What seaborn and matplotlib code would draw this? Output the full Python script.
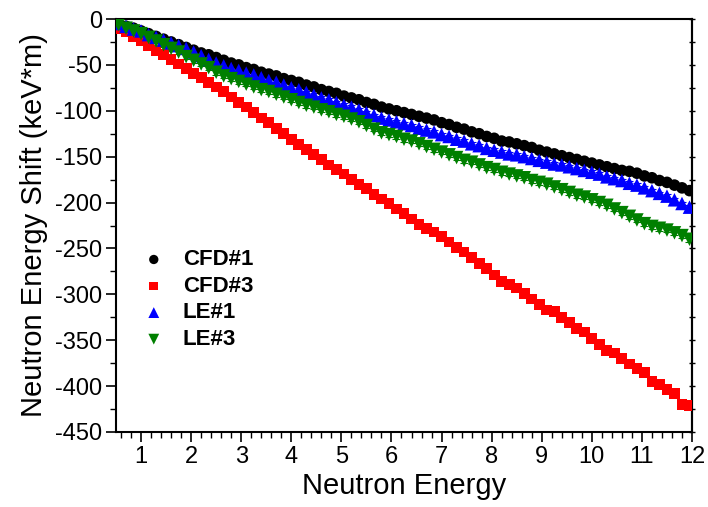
import numpy as np
import pandas as pd
import matplotlib
matplotlib.use("Agg")
import matplotlib.pyplot as plt
import seaborn as sns
from matplotlib.ticker import MultipleLocator

energy = [0.55, 0.70, 0.85, 1.00, 1.15, 1.30, 1.45, 1.60, 1.75, 1.90, 2.05, 2.20, 2.35, 2.50,
          2.65, 2.80, 2.95, 3.10, 3.25, 3.40, 3.55, 3.70, 3.85, 4.00, 4.15, 4.30, 4.45, 4.60,
          4.75, 4.90, 5.05, 5.20, 5.35, 5.50, 5.65, 5.80, 5.95, 6.10, 6.25, 6.40, 6.55, 6.70,
          6.85, 7.00, 7.15, 7.30, 7.45, 7.60, 7.75, 7.90, 8.05, 8.20, 8.35, 8.50, 8.65, 8.80,
          8.95, 9.10, 9.25, 9.40, 9.55, 9.70, 9.85, 10.00, 10.15, 10.30, 10.45, 10.60, 10.75,
          10.90, 11.05, 11.20, 11.35, 11.50, 11.65, 11.80, 11.95]

cfd1 = [-5, -8, -10, -13, -16, -19, -22, -25, -28, -31, -34, -37, -39, -42, -45, -48, -50,
        -53, -55, -58, -60, -62, -65, -67, -69, -72, -74, -77, -79, -81, -84, -86, -88, -91,
        -93, -96, -98, -100, -102, -104, -106, -108, -110, -113, -115, -118, -120, -123, -125,
        -128, -130, -133, -134, -136, -138, -140, -143, -145, -147, -149, -151, -153, -155,
        -157, -159, -161, -163, -165, -166, -168, -171, -173, -176, -178, -181, -184, -187]

cfd3 = [-10, -14, -19, -24, -29, -34, -39, -44, -49, -54, -59, -64, -69, -74, -79, -85, -91,
        -96, -102, -108, -113, -119, -125, -131, -137, -142, -148, -153, -159, -164, -169,
        -175, -180, -185, -191, -196, -201, -207, -212, -218, -224, -228, -232, -237, -243,
        -249, -254, -260, -266, -272, -279, -286, -289, -293, -299, -305, -311, -317, -319,
        -325, -331, -337, -341, -348, -355, -361, -364, -370, -376, -381, -385, -395, -398,
        -404, -408, -420, -421]

le1 = [-5, -8, -11, -13, -17, -20, -23, -26, -29, -32, -36, -40, -44, -48, -51, -54, -56,
       -59, -61, -64, -67, -69, -72, -75, -77, -80, -83, -86, -88, -91, -94, -96, -99, -102,
       -105, -108, -110, -112, -114, -116, -119, -121, -123, -126, -128, -131, -133, -136,
       -138, -141, -143, -145, -147, -148, -150, -152, -154, -156, -158, -159, -161, -163,
       -165, -167, -169, -172, -174, -176, -179, -181, -184, -187, -190, -193, -197, -201, -205]

le3 = [-6, -10, -13, -16, -20, -24, -28, -32, -36, -41, -45, -49, -53, -58, -62, -65, -68,
       -71, -74, -77, -79, -82, -85, -88, -91, -94, -96, -99, -101, -104, -106, -109, -112,
       -116, -120, -124, -126, -128, -131, -133, -136, -139, -142, -145, -148, -151, -154,
       -156, -159, -162, -164, -167, -169, -171, -173, -176, -178, -180, -183, -186, -189,
       -192, -194, -197, -200, -203, -207, -211, -215, -219, -223, -226, -228, -230, -233,
       -236, -240]

labels = ["CFD#1", "CFD#3", "LE#1", "LE#3"]
series = [cfd1, cfd3, le1, le3]
err = [1.5, 2.0, 2.0, 2.5]

colors = {"CFD#1": "#000000", "CFD#3": "#FF0000", "LE#1": "#0000FF", "LE#3": "#008000"}
markers = {"CFD#1": "o", "CFD#3": "s", "LE#1": "^", "LE#3": "v"}
msizes = {"CFD#1": 70, "CFD#3": 60, "LE#1": 95, "LE#3": 95}

sns.set_style("ticks")
plt.rcParams["font.family"] = ["Liberation Sans", "DejaVu Sans"]
plt.rcParams["axes.unicode_minus"] = False
plt.rcParams["text.color"] = "black"
plt.rcParams["axes.labelcolor"] = "black"
plt.rcParams["xtick.color"] = "black"
plt.rcParams["ytick.color"] = "black"

fig = plt.figure(figsize=(7.08, 5.07), dpi=100)
ax = fig.add_axes([116/708, 1-432/507, (692-116)/708, (432-19)/507])

for lab, s, e in zip(labels, series, err):
    ax.errorbar(energy, s, yerr=e, fmt="none", ecolor=colors[lab], elinewidth=0.8,
                capsize=3, capthick=0.8, zorder=2)

for lab, s in zip(labels, series):
    d = pd.DataFrame({"Energy": energy, "Shift": s})
    sns.scatterplot(data=d, x="Energy", y="Shift", color=colors[lab], marker=markers[lab],
                    s=msizes[lab], edgecolor="none", label=lab, ax=ax, zorder=3)

ax.set_xlim(0.5, 12)
ax.set_ylim(-450, 0)
ax.set_xticks(range(1, 13))
ax.xaxis.set_minor_locator(MultipleLocator(0.2))
ax.yaxis.set_major_locator(MultipleLocator(50))
ax.yaxis.set_minor_locator(MultipleLocator(25))

ax.tick_params(axis="both", which="major", labelsize=17, width=1.2, length=7,
               direction="out", pad=3)
ax.tick_params(axis="both", which="minor", width=1.0, length=4, direction="out")

sec = ax.secondary_yaxis("right")
sec.yaxis.set_major_locator(MultipleLocator(25))
sec.tick_params(axis="y", which="major", direction="inout", length=4, width=1.0,
                labelright=False)
sec.spines["right"].set_linewidth(1.5)

for sp in ax.spines.values():
    sp.set_linewidth(1.5)
    sp.set_color("black")

ax.set_xlabel("Neutron Energy", fontsize=21, labelpad=3)
ax.set_ylabel("Neutron Energy Shift (keV*m)", fontsize=21, labelpad=5)

leg = ax.legend(loc="upper left", bbox_to_anchor=(0.0, 0.48), frameon=False,
                prop={"weight": "bold", "size": 16}, handletextpad=0.3,
                labelspacing=0.25, markerscale=0.8, borderaxespad=0.3)

fig.savefig("out.png", dpi=100)
